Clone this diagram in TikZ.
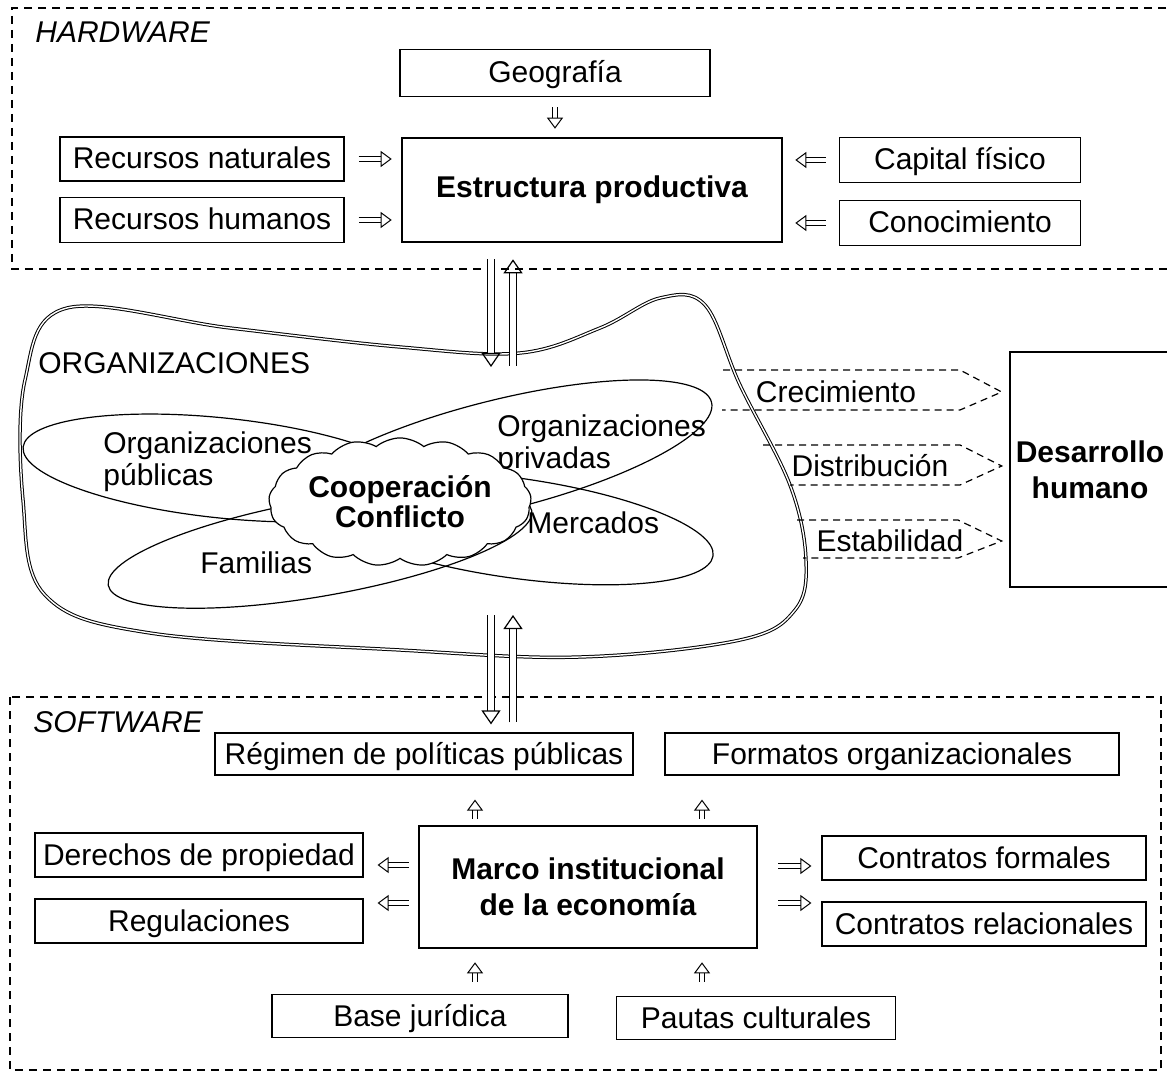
\documentclass[tikz,border=0pt]{standalone}
\usepackage{fontspec}
\setmainfont{Liberation Sans}
\usetikzlibrary{arrows.meta,shapes.symbols,calc}

\begin{document}
\begin{tikzpicture}[x=0.5pt, y=-0.5pt,
	font=\fontsize{15}{16}\selectfont,
	box/.style = {draw, line width=0.6pt, inner sep=0pt, text height=11.5pt, text depth=1.5pt},
	bigbox/.style = {draw, line width=1.3pt, inner sep=0pt, align=center, font=\fontsize{15}{18}\selectfont\bfseries},
	zone/.style = {line width=0.7pt, dash pattern=on 4pt off 3pt},
	flow/.style = {line width=0.6pt, dash pattern=on 3.5pt off 2.5pt},
	harrow/.style = {double=white, double distance=2pt, line width=0.5pt, -{Triangle[open, length=5.5pt, width=8pt]}},
	barrow/.style = {double=white, double distance=2.6pt, line width=0.6pt, -{Triangle[open, length=7pt, width=9.5pt]}},
	lbl/.style = {inner sep=0pt, anchor=west, align=left}]

  \useasboundingbox (0,0) rectangle (1167,1080);

  % hardware
  \draw[zone] (1180,8) -- (12,8) -- (12,269) -- (1180,269);
  \node[lbl, font=\fontsize{15}{16}\selectfont\itshape] (hw) at (35,32) {HARDWARE};
  \node[box, minimum width=155pt, minimum height=23.5pt] (geo) at (555,73) {Geografía};
  \node[box, minimum width=142pt, minimum height=22pt] (rnat) at (202,159) {Recursos naturales};
  \node[box, minimum width=142pt, minimum height=22.5pt] (rhum) at (202,220) {Recursos humanos};
  \node[bigbox, minimum width=190pt, minimum height=52pt] (estr) at (592,190) {Estructura productiva};
  \node[box, minimum width=120.5pt, minimum height=22.5pt] (capf) at (960,160) {Capital físico};
  \node[box, minimum width=120.5pt, minimum height=22.5pt] (cono) at (960,223) {Conocimiento};

  \draw[harrow] ($(geo.south)+(0,10)$) -- ($(estr.north -| geo.south)+(0,-8)$);
  \draw[harrow] ($(rnat.east)+(14,0)$) -- ($(rnat.east -| estr.west)+(-9,0)$);
  \draw[harrow] ($(rhum.east)+(14,0)$) -- ($(rhum.east -| estr.west)+(-9,0)$);
  \draw[harrow] ($(capf.west)+(-13,0)$) -- ($(capf.west -| estr.east)+(12,0)$);
  \draw[harrow] ($(cono.west)+(-13,0)$) -- ($(cono.west -| estr.east)+(12,0)$);

  % organizaciones
  \draw[line width=0.5pt, double, double distance=0.7pt] plot[smooth cycle, tension=0.6] coordinates {
    (67,308) (230,328) (400,347) (520,353) (600,328) (660,298) (705,305)
    (740,385) (790,485) (806,560) (795,610) (740,640) (580,657) (400,650)
    (150,633) (45,595) (23,500) (25,380)};
  \node[lbl] (orgs) at (38,363) {ORGANIZACIONES};

  \draw[line width=0.6pt] (222,468) circle[x radius=200, y radius=50, rotate=-6];
  \draw[line width=0.6pt] (500,455) circle[x radius=218, y radius=55, rotate=14];
  \draw[line width=0.6pt] (320,548) circle[x radius=215, y radius=48, rotate=10];
  \draw[line width=0.6pt] (515,528) circle[x radius=200, y radius=50, rotate=-8];

  \node[lbl] (pub) at (103,462) {Organizaciones\\públicas};
  \node[lbl] (priv) at (497,445) {Organizaciones\\privadas};
  \node[lbl] (fam) at (200,563) {Familias};
  \node[lbl] (merc) at (527,523) {Mercados};

  \node[cloud, draw, fill=white, line width=0.6pt, cloud puffs=17, cloud puff arc=80, aspect=2.3,
    minimum width=112pt, minimum height=50pt, inner sep=0pt, align=center,
    font=\fontsize{15}{13}\selectfont\bfseries] (coop) at (400,502) {Cooperación\\Conflicto};

  % desarrollo humano
  \node[bigbox, minimum width=80pt, minimum height=117.5pt] (desa) at (1090,469.5) {Desarrollo\\humano};

  \node (crec) at (836,392) {Crecimiento};
  \node (dist) at (870,466) {Distribución};
  \node (estab) at (890,541) {Estabilidad};
  \draw[flow] (723,370) -- (960,370) -- ([xshift=-3.5pt]desa.west |- crec) -- (960,410) -- (722,410);
  \draw[flow] (763,445) -- (960,445) -- ([xshift=-3.5pt]desa.west |- dist) -- (960,485) -- (790,485);
  \draw[flow] (797,520) -- (958,520) -- ([xshift=-3.5pt]desa.west |- estab) -- (958,558) -- (803,558);

  % software
  \draw[zone] (10,697) rectangle (1161,1070);
  \node[lbl, font=\fontsize{15}{16}\selectfont\itshape] (sw) at (33,722) {SOFTWARE};
  \node[box, minimum width=209pt, minimum height=21pt] (regi) at (424,754) {Régimen de políticas públicas};
  \node[box, minimum width=227pt, minimum height=21pt] (form) at (892,754) {Formatos organizacionales};
  \node[bigbox, minimum width=169pt, minimum height=61pt] (marco) at (588,887) {Marco institucional\\de la economía};
  \node[box, minimum width=164pt, minimum height=22pt] (dere) at (199,855) {Derechos de propiedad};
  \node[box, minimum width=164pt, minimum height=22pt] (regu) at (199,921) {Regulaciones};
  \node[box, minimum width=162pt, minimum height=22pt] (cfor) at (984,858) {Contratos formales};
  \node[box, minimum width=162pt, minimum height=22pt] (crel) at (984,924) {Contratos relacionales};
  \node[box, minimum width=148pt, minimum height=21.5pt] (base) at (420,1016) {Base jurídica};
  \node[box, minimum width=139.5pt, minimum height=21.5pt] (paut) at (756,1018) {Pautas culturales};

  \coordinate (al) at (475,0);
  \coordinate (ar) at (702,0);
  \draw[harrow] ($(marco.north -| al)+(0,-6)$) -- ($(regi.south -| al)+(0,24)$);
  \draw[harrow] ($(marco.north -| ar)+(0,-6)$) -- ($(form.south -| ar)+(0,24)$);
  \draw[harrow] ($(base.north -| al)+(0,-12)$) -- ($(marco.south -| al)+(0,13)$);
  \draw[harrow] ($(paut.north -| ar)+(0,-14)$) -- ($(marco.south -| ar)+(0,13)$);
  \draw[harrow] ($(marco.west |- dere)+(-9,10)$) -- ($(dere.east)+(14,10)$);
  \draw[harrow] ($(marco.west |- regu)+(-9,-18)$) -- ($(regu.east)+(14,-18)$);
  \draw[harrow] ($(marco.east |- cfor)+(20,8)$) -- ($(cfor.west)+(-10,8)$);
  \draw[harrow] ($(marco.east |- crel)+(20,-21)$) -- ($(crel.west)+(-10,-21)$);

  % flujos verticales
  \coordinate (dn) at (491,0);
  \coordinate (up) at (513,0);
  \coordinate (orgtop) at (500,367);
  \coordinate (orgbot) at (500,615);
  \draw[barrow] ($(estr.south -| dn)+(0,16)$) -- (orgtop -| dn);
  \draw[barrow] ($(orgtop -| up)+(0,-1)$) -- ($(estr.south -| up)+(0,16)$);
  \draw[barrow] (orgbot -| dn) -- ($(regi.north -| dn)+(0,-8)$);
  \draw[barrow] ($(regi.north -| up)+(0,-10)$) -- (orgbot -| up);
\end{tikzpicture}
\end{document}
